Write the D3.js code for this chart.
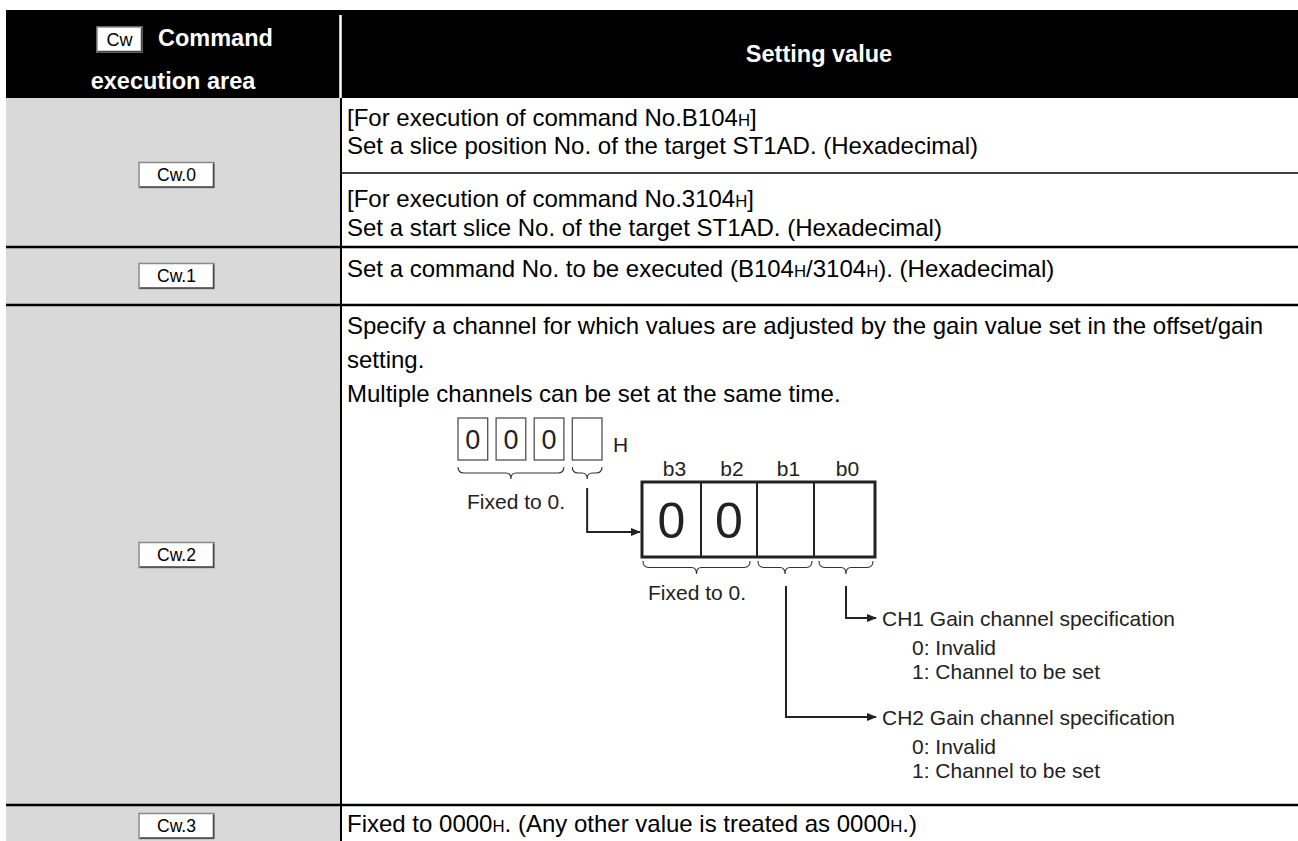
<!DOCTYPE html>
<html><head><meta charset="utf-8">
<script src="https://cdn.jsdelivr.net/npm/d3@7"></script>
<style>body{margin:0;background:#fff}svg{display:block}text{font-family:"Liberation Sans",Arial,sans-serif}</style>
</head><body><svg id="c" width="1298" height="841"></svg>
<script>
// ---- data ----
const headerLeft = ["Command", "execution area"];
const headerRight = "Setting value";
const rowLabels = ["Cw.0", "Cw.1", "Cw.2", "Cw.3"];
// text segments: [text, isSubscriptH]
const cw0a = [[["[For execution of command No.B104",0],["H",1],["]",0]], [["Set a slice position No. of the target ST1AD. (Hexadecimal)",0]]];
const cw0b = [[["[For execution of command No.3104",0],["H",1],["]",0]], [["Set a start slice No. of the target ST1AD. (Hexadecimal)",0]]];
const cw1 = [[["Set a command No. to be executed (B104",0],["H",1],["/3104",0],["H",1],["). (Hexadecimal)",0]]];
const cw2 = [[["Specify a channel for which values are adjusted by the gain value set in the offset/gain",0]],[["setting.",0]],[["Multiple channels can be set at the same time.",0]]];
const cw3 = [[["Fixed to 0000",0],["H",1],[". (Any other value is treated as 0000",0],["H",1],[".)",0]]];
const hexDigits = ["0","0","0",""];
const bitLabels = ["b3","b2","b1","b0"];
const bitValues = ["0","0","",""];
const fixedLabel = "Fixed to 0.";
const ch1Lines = ["CH1 Gain channel specification","0: Invalid","1: Channel to be set"];
const ch2Lines = ["CH2 Gain channel specification","0: Invalid","1: Channel to be set"];

// ---- layout ----
const svg = d3.select("#c");
const X0 = 6, XD = 340, XR = 1298;
const rowY = d3.scaleOrdinal().domain(["head","cw0","cw0mid","cw1","cw2","cw3","end"]).range([10,98,173,247,305,805,841]);

// header
svg.append("rect").attr("x",X0).attr("y",rowY("head")).attr("width",XR-X0).attr("height",rowY("cw0")-rowY("head")).attr("fill","#000");
svg.append("line").attr("x1",XD+0.5).attr("x2",XD+0.5).attr("y1",rowY("head")+5).attr("y2",rowY("cw0")).attr("stroke","#fff").attr("stroke-width",2.5);
// gray column
svg.append("rect").attr("x",X0).attr("y",rowY("cw0")).attr("width",XD-X0).attr("height",rowY("end")-rowY("cw0")).attr("fill","#d9d9d9");
// vertical divider
svg.append("line").attr("x1",XD+1).attr("x2",XD+1).attr("y1",rowY("cw0")).attr("y2",rowY("end")).attr("stroke","#000").attr("stroke-width",2);
// horizontal lines
["cw1","cw2","cw3"].forEach(k=>{
  svg.append("line").attr("x1",X0).attr("x2",XR).attr("y1",rowY(k)).attr("y2",rowY(k)).attr("stroke","#000").attr("stroke-width",2.3);
});
svg.append("line").attr("x1",XD+1).attr("x2",XR).attr("y1",rowY("cw0mid")).attr("y2",rowY("cw0mid")).attr("stroke","#000").attr("stroke-width",1.7);

// Cw label boxes
function cwBox(cx, cy, label, w, h, fs){
  const g = svg.append("g");
  g.append("rect").attr("x",cx-w/2).attr("y",cy-h/2).attr("width",w).attr("height",h).attr("fill","#fff").attr("stroke","#8a8a8a").attr("stroke-width",1.5);
  g.append("line").attr("x1",cx-w/2+1).attr("x2",cx+w/2).attr("y1",cy+h/2-0.5).attr("y2",cy+h/2-0.5).attr("stroke","#444").attr("stroke-width",1.5);
  g.append("line").attr("x1",cx+w/2-0.5).attr("x2",cx+w/2-0.5).attr("y1",cy-h/2+1).attr("y2",cy+h/2).attr("stroke","#444").attr("stroke-width",1.5);
  g.append("text").attr("x",cx).attr("y",cy+fs*0.36).attr("text-anchor","middle").attr("font-size",fs).attr("fill","#000").text(label);
}
// header text
cwBox(119.5, 39.5, "Cw", 45, 25, 18);
svg.append("text").attr("x",158).attr("y",46).attr("font-size",23.5).attr("font-weight","bold").attr("fill","#fff").text(headerLeft[0]);
svg.append("text").attr("x",(X0+XD)/2).attr("y",88.5).attr("text-anchor","middle").attr("font-size",23.5).attr("font-weight","bold").attr("fill","#fff").text(headerLeft[1]);
svg.append("text").attr("x",(XD+XR)/2).attr("y",62).attr("text-anchor","middle").attr("font-size",23.5).attr("font-weight","bold").attr("fill","#fff").text(headerRight);

const lblCenters = [175, 276, (rowY("cw2")+rowY("cw3"))/2, 826];
rowLabels.forEach((l,i)=>cwBox(176.5, lblCenters[i], l, 75, 25, 17.5));

// rich text lines
function richLine(x, y, segs, fs){
  const t = svg.append("text").attr("x",x).attr("y",y).attr("font-size",fs).attr("fill","#000");
  segs.forEach(s=>t.append("tspan").attr("font-size", s[1]? fs*0.7 : fs).text(s[0]));
}
const TX = 347, FS = 24;
const cellLines = [
  [cw0a[0],117],[cw0a[1],145],[cw0b[0],198],[cw0b[1],227],
  [cw1[0],268],
  [cw2[0],325],[cw2[1],359],[cw2[2],393],
  [cw3[0],823]
];
cellLines.forEach(d=>richLine(TX,d[1]+FS*0.36,d[0],FS));

// ---- diagram ----
const dg = svg.append("g");
const DFS = 21;
// hex digit boxes
const hx = d3.scaleBand().domain(d3.range(hexDigits.length)).range([458,602]).paddingInner(0.22);
hexDigits.forEach((d,i)=>{
  dg.append("rect").attr("x",hx(i)).attr("y",418).attr("width",hx.bandwidth()).attr("height",42).attr("fill","#fff").attr("stroke","#444").attr("stroke-width",1.2);
  dg.append("text").attr("x",hx(i)+hx.bandwidth()/2).attr("y",449).attr("text-anchor","middle").attr("font-size",27).attr("fill","#222").text(d);
});
dg.append("text").attr("x",613).attr("y",452).attr("font-size",DFS).attr("fill","#222").text("H");

function brace(x1, x2, y, h){
  const m = (x1+x2)/2;
  const p = `M${x1},${y} Q${x1},${y+h/2} ${x1+6},${y+h/2} L${m-5},${y+h/2} Q${m},${y+h/2} ${m},${y+h} Q${m},${y+h/2} ${m+5},${y+h/2} L${x2-6},${y+h/2} Q${x2},${y+h/2} ${x2},${y}`;
  dg.append("path").attr("d",p).attr("fill","none").attr("stroke","#333").attr("stroke-width",1.1);
}
brace(hx(0), hx(2)+hx.bandwidth(), 467, 12);
brace(hx(3), hx(3)+hx.bandwidth(), 467, 12);
dg.append("text").attr("x",516).attr("y",509).attr("text-anchor","middle").attr("font-size",DFS).attr("fill","#222").text(fixedLabel);

// arrow marker
const defs = svg.append("defs");
defs.append("marker").attr("id","ah").attr("viewBox","0 0 10 10").attr("refX",9).attr("refY",5).attr("markerWidth",10).attr("markerHeight",10).attr("markerUnits","userSpaceOnUse").attr("orient","auto")
  .append("path").attr("d","M0,1 L10,5 L0,9 Z").attr("fill","#222");

const bx4 = hx(3)+hx.bandwidth()/2;
dg.append("path").attr("d",`M${bx4},488 L${bx4},532 L640,532`).attr("fill","none").attr("stroke","#222").attr("stroke-width",2).attr("marker-end","url(#ah)");

// bit box
const bEdges = [642,701,757,814,875];
const bitX = i => bEdges[i], bitW = i => bEdges[i+1]-bEdges[i];
dg.append("rect").attr("x",642).attr("y",482).attr("width",875-642).attr("height",75).attr("fill","#fff").attr("stroke","#222").attr("stroke-width",3);
[1,2,3].forEach(i=>dg.append("line").attr("x1",bEdges[i]).attr("x2",bEdges[i]).attr("y1",482).attr("y2",557).attr("stroke","#222").attr("stroke-width",2));
bitLabels.forEach((b,i)=>dg.append("text").attr("x",bitX(i)+bitW(i)/2+3).attr("y",476).attr("text-anchor","middle").attr("font-size",DFS).attr("fill","#222").text(b));
bitValues.forEach((v,i)=>dg.append("text").attr("x",bitX(i)+bitW(i)/2).attr("y",538).attr("text-anchor","middle").attr("font-size",50).attr("fill","#222").text(v));

brace(643, 750, 561, 13);
brace(758, 812, 561, 13);
brace(819, 873, 561, 13);
dg.append("text").attr("x",648).attr("y",600).attr("font-size",DFS).attr("fill","#222").text(fixedLabel);

// CH arrows
const chY = [618, 717];
dg.append("path").attr("d",`M846,586 L846,${chY[0]} L876,${chY[0]}`).attr("fill","none").attr("stroke","#222").attr("stroke-width",2).attr("marker-end","url(#ah)");
dg.append("path").attr("d",`M786,586 L786,${chY[1]} L876,${chY[1]}`).attr("fill","none").attr("stroke","#222").attr("stroke-width",2).attr("marker-end","url(#ah)");
[ch1Lines, ch2Lines].forEach((lines,k)=>{
  lines.forEach((l,j)=>{
    dg.append("text").attr("x", j===0?882:912).attr("y", chY[k]+7.5+(j===0?0:5+j*24)).attr("font-size",DFS).attr("fill","#222").text(l);
  });
});
</script></body></html>
